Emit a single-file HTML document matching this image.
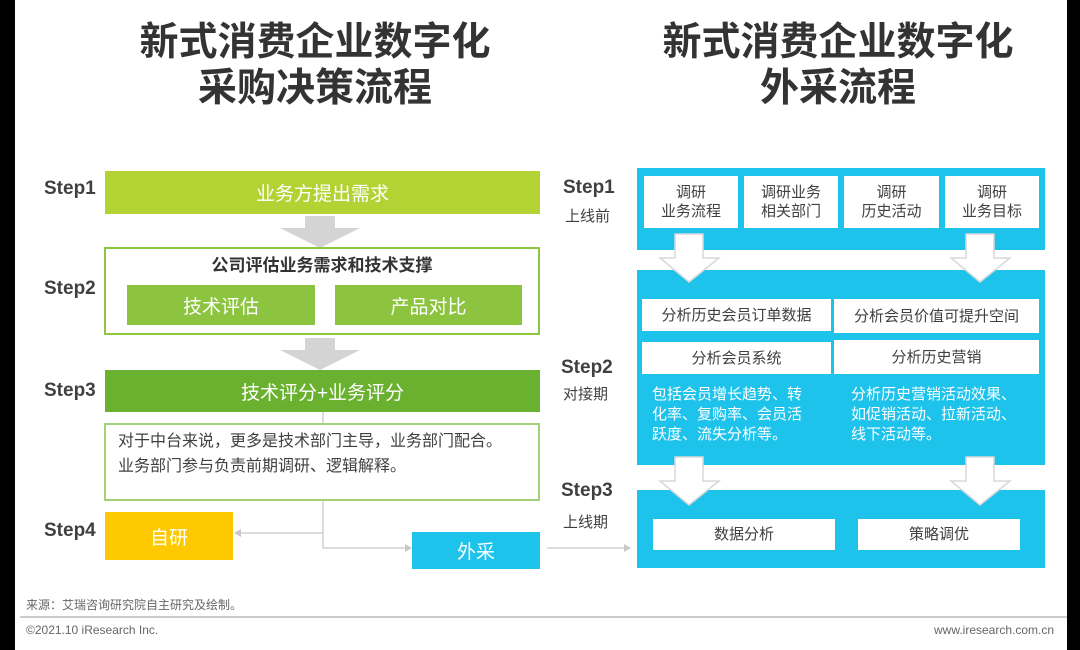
<!DOCTYPE html>
<html><head><meta charset="utf-8"><style>
*{margin:0;padding:0;box-sizing:border-box}
body{width:1080px;height:650px;background:#fff;position:relative;overflow:hidden;font-family:"Liberation Sans","Noto Sans CJK SC",sans-serif;color:#404040}
.a{position:absolute}
.c{display:flex;align-items:center;justify-content:center;text-align:center}
.t{font-weight:bold;font-size:39px;color:#333;text-align:center;line-height:46px}
.st{font-weight:bold;font-size:19px;color:#404040}
.w{background:#fff;color:#404040;font-size:15px;line-height:19px}
.bp{background:#1ec3ec}
</style></head><body>
<div class="a" style="left:0;top:0;width:15px;height:650px;background:#000"></div>
<div class="a" style="right:0;top:0;width:13px;height:650px;background:#000"></div>

<div class="a t" style="left:115px;top:20px;width:400px">新式消费企业数字化<br>采购决策流程</div>
<div class="a t" style="left:638px;top:20px;width:400px">新式消费企业数字化<br>外采流程</div>

<div class="a st" style="left:44px;top:178px">Step1</div>
<div class="a st" style="left:44px;top:278px">Step2</div>
<div class="a st" style="left:44px;top:380px">Step3</div>
<div class="a st" style="left:44px;top:520px">Step4</div>

<div class="a c" style="left:105px;top:171px;width:435px;height:43px;background:#b3d335;color:#fff;font-size:19px">业务方提出需求</div>
<svg class="a" style="left:260px;top:216px" width="120" height="34"><polygon points="45,0 75,0 75,12 100,12 60,32 20,12 45,12" fill="#d4d4d4"/></svg>
<div class="a" style="left:104px;top:247px;width:436px;height:88px;border:2px solid #8dc63f"></div>
<div class="a" style="left:104px;top:251px;width:436px;text-align:center;font-weight:bold;font-size:17px;color:#333">公司评估业务需求和技术支撑</div>
<div class="a c" style="left:127px;top:285px;width:188px;height:40px;background:#8cc43f;color:#fff;font-size:19px">技术评估</div>
<div class="a c" style="left:335px;top:285px;width:187px;height:40px;background:#8cc43f;color:#fff;font-size:19px">产品对比</div>
<svg class="a" style="left:260px;top:338px" width="120" height="34"><polygon points="45,0 75,0 75,12 100,12 60,32 20,12 45,12" fill="#d4d4d4"/></svg>
<div class="a c" style="left:105px;top:370px;width:435px;height:42px;background:#6bb130;color:#fff;font-size:19px">技术评分+业务评分</div>

<svg class="a" style="left:0;top:0" width="1080" height="650">
<g stroke="#d0d0d0" stroke-width="1.5" fill="none">
<line x1="323" y1="412" x2="323" y2="548"/>
<line x1="323" y1="533" x2="238" y2="533"/>
<line x1="323" y1="548" x2="408" y2="548"/>
<line x1="547" y1="548" x2="626" y2="548"/>
</g>
<g fill="#c8c8c8">
<polygon points="234,533 241,529 241,537"/>
<polygon points="412,548 405,544 405,552"/>
<polygon points="631,548 624,544 624,552"/>
</g>
<line x1="20" y1="617" x2="1067" y2="617" stroke="#999" stroke-width="1"/>
</svg>

<div class="a" style="left:104px;top:423px;width:436px;height:78px;border:2px solid #a3d17a;background:#fff;padding:4px 0 0 12px;font-size:16px;line-height:25px;color:#404040">对于中台来说，更多是技术部门主导，业务部门配合。<br>业务部门参与负责前期调研、逻辑解释。</div>
<div class="a c" style="left:105px;top:512px;width:128px;height:48px;background:#fec900;color:#fff;font-size:19px">自研</div>
<div class="a c" style="left:412px;top:532px;width:128px;height:37px;background:#1ec3ec;color:#fff;font-size:19px">外采</div>

<div class="a st" style="left:563px;top:177px">Step1</div>
<div class="a" style="left:565px;top:205px;font-size:15px">上线前</div>
<div class="a st" style="left:561px;top:357px">Step2</div>
<div class="a" style="left:563px;top:383px;font-size:15px">对接期</div>
<div class="a st" style="left:561px;top:480px">Step3</div>
<div class="a" style="left:563px;top:511px;font-size:15px">上线期</div>

<div class="a bp" style="left:637px;top:168px;width:408px;height:82px"></div>
<div class="a c w" style="left:644px;top:176px;width:94px;height:52px">调研<br>业务流程</div>
<div class="a c w" style="left:744px;top:176px;width:94px;height:52px">调研业务<br>相关部门</div>
<div class="a c w" style="left:844px;top:176px;width:95px;height:52px">调研<br>历史活动</div>
<div class="a c w" style="left:945px;top:176px;width:94px;height:52px">调研<br>业务目标</div>

<div class="a bp" style="left:637px;top:270px;width:408px;height:195px"></div>
<div class="a c w" style="left:642px;top:299px;width:189px;height:32px">分析历史会员订单数据</div>
<div class="a c w" style="left:834px;top:299px;width:205px;height:34px">分析会员价值可提升空间</div>
<div class="a c w" style="left:642px;top:342px;width:189px;height:32px">分析会员系统</div>
<div class="a c w" style="left:834px;top:340px;width:205px;height:34px">分析历史营销</div>
<div class="a" style="left:652px;top:385px;white-space:nowrap;color:#fff;font-size:15px;line-height:20px">包括会员增长趋势、转<br>化率、复购率、会员活<br>跃度、流失分析等。</div>
<div class="a" style="left:851px;top:385px;white-space:nowrap;color:#fff;font-size:15px;line-height:20px">分析历史营销活动效果、<br>如促销活动、拉新活动、<br>线下活动等。</div>

<div class="a bp" style="left:637px;top:490px;width:408px;height:78px"></div>
<div class="a c w" style="left:653px;top:519px;width:182px;height:31px">数据分析</div>
<div class="a c w" style="left:858px;top:519px;width:162px;height:31px">策略调优</div>

<svg class="a" style="left:0;top:0" width="1080" height="650">
<g fill="#fff" stroke="#d8d8d8" stroke-width="1.5">
<polygon points="675,234 703,234 703,258 719,258 689,282 660,258 675,258"/>
<polygon points="966,234 994,234 994,258 1010,258 980,282 951,258 966,258"/>
<polygon points="675,457 703,457 703,481 719,481 689,505 660,481 675,481"/>
<polygon points="966,457 994,457 994,481 1010,481 980,505 951,481 966,481"/>
</g></svg>

<div class="a" style="left:26px;top:596px;font-size:12px;color:#666">来源：艾瑞咨询研究院自主研究及绘制。</div>
<div class="a" style="left:26px;top:623px;font-size:12px;color:#666">©2021.10 iResearch Inc.</div>
<div class="a" style="left:934px;top:623px;font-size:12px;color:#666">www.iresearch.com.cn</div>
</body></html>
